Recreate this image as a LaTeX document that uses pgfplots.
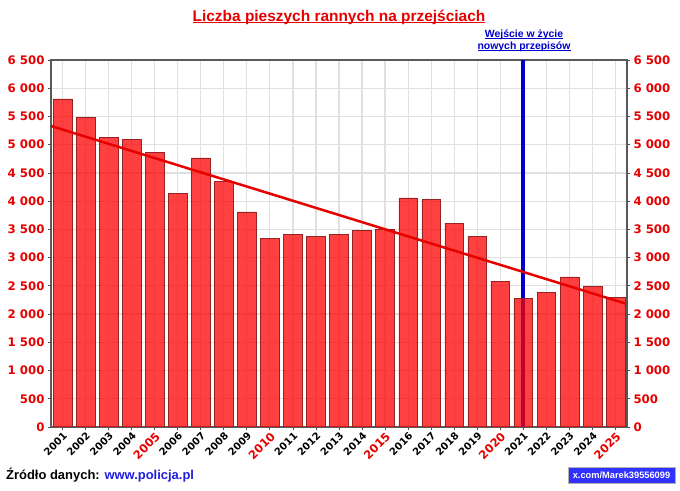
\documentclass[border=0pt]{standalone}
\usepackage{pgfplots}
\usepackage{pgfplotstable}
\pgfplotsset{compat=1.18}
\usepackage{fontspec}
\setmainfont{Liberation Sans}
\newfontfamily\dejavu{DejaVu Sans}
\definecolor{tred}{RGB}{230,0,0}
\definecolor{tblue}{RGB}{0,0,204}
\definecolor{urlblue}{RGB}{30,30,220}
\definecolor{boxblue}{RGB}{48,48,255}
\definecolor{gridgray}{RGB}{224,224,224}
\definecolor{barline}{RGB}{150,35,35}
\newcommand\ul[2][1.6bp]{\setbox0\hbox{#2}\rlap{\rule[-#1]{\wd0}{1.1bp}}\box0}

\pgfplotstableread{
x y
1 5810
2 5485
3 5125
4 5100
5 4865
6 4140
7 4765
8 4350
9 3808
10 3342
11 3418
12 3377
13 3412
14 3489
15 3501
16 4056
17 4026
18 3613
19 3377
20 2580
21 2273
22 2391
23 2657
24 2497
25 2302
}\data

\newcommand{\ry}[1]{\textcolor{tred}{\fontsize{11.5}{12}\selectfont #1}}

\begin{document}
\begin{tikzpicture}
\useasboundingbox (-51bp,-64bp) rectangle (629bp,427bp);
\begin{axis}[at={(0,0)}, anchor=south west, scale only axis,
  width=576bp, height=367bp,
  xmin=0.5, xmax=25.5, ymin=0, ymax=6500,
  xtick={1,...,25},
  xticklabels={2001,2002,2003,2004,{\ry{2005}},2006,2007,2008,2009,{\ry{2010}},2011,2012,2013,2014,{\ry{2015}},2016,2017,2018,2019,{\ry{2020}},2021,2022,2023,2024,{\ry{2025}}},
  ytick={0,500,...,6500},
  yticklabels={0,500,1 000,1 500,2 000,2 500,3 000,3 500,4 000,4 500,5 000,5 500,6 000,6 500},
  ytick pos=left, xtick pos=bottom,
  tick align=outside, major tick length=3bp,
  tick style={black!70, line width=0.8bp},
  grid=major, grid style={gridgray, line width=1.2bp},
  axis line style={draw=black!65, line width=1.2bp},
  yticklabel style={font=\dejavu\bfseries\fontsize{11.8}{12}\selectfont, text=tred},
  xticklabel style={font=\dejavu\bfseries\fontsize{10}{11}\selectfont, rotate=45, anchor=north east, inner sep=1bp},
]
\addplot[tblue, line width=4bp] coordinates {(21,0) (21,6500)};
\addplot[ybar, bar width=18.7bp, fill=red, fill opacity=0.75, draw=barline, line width=0.5bp] table[x=x,y=y]{\data};
\addplot[tred, line width=2.5bp] coordinates {(0.5,5331) (25.5,2178)};
\end{axis}
\begin{axis}[at={(0,0)}, anchor=south west, scale only axis,
  width=576bp, height=367bp,
  xmin=0.5, xmax=25.5, ymin=0, ymax=6500,
  axis x line=none, axis y line*=right,
  ytick={0,500,...,6500},
  yticklabels={0,500,1 000,1 500,2 000,2 500,3 000,3 500,4 000,4 500,5 000,5 500,6 000,6 500},
  tick align=outside, major tick length=3bp,
  tick style={black!70, line width=0.8bp},
  axis line style={draw=black!65, line width=1.2bp},
  yticklabel style={font=\dejavu\bfseries\fontsize{11.8}{12}\selectfont, text=tred},
]
\addplot[draw=none] coordinates {(1,0)};
\end{axis}
\node[font=\bfseries\fontsize{15.5}{18}\selectfont, text=tred] at (288bp,410bp) {\ul[2bp]{Liczba pieszych rannych na przejściach}};
\node[font=\bfseries\fontsize{10.5}{12}\selectfont, text=tblue, align=center, inner sep=0] at (473bp,386bp) {\ul{Wejście w życie}\\ \ul{nowych przepisów}};
\node[anchor=base west, font=\bfseries\fontsize{13}{15}\selectfont, inner sep=0] at (-45bp,-52bp) {Źródło danych: \textcolor{urlblue}{www.policja.pl}};
\node[fill=boxblue, draw=black!30, text=white, font=\bfseries\fontsize{9.3}{11}\selectfont, minimum width=107bp, minimum height=16.5bp, inner sep=0] at (570.5bp,-48bp) {x.com/Marek39556099};
\end{tikzpicture}
\end{document}
